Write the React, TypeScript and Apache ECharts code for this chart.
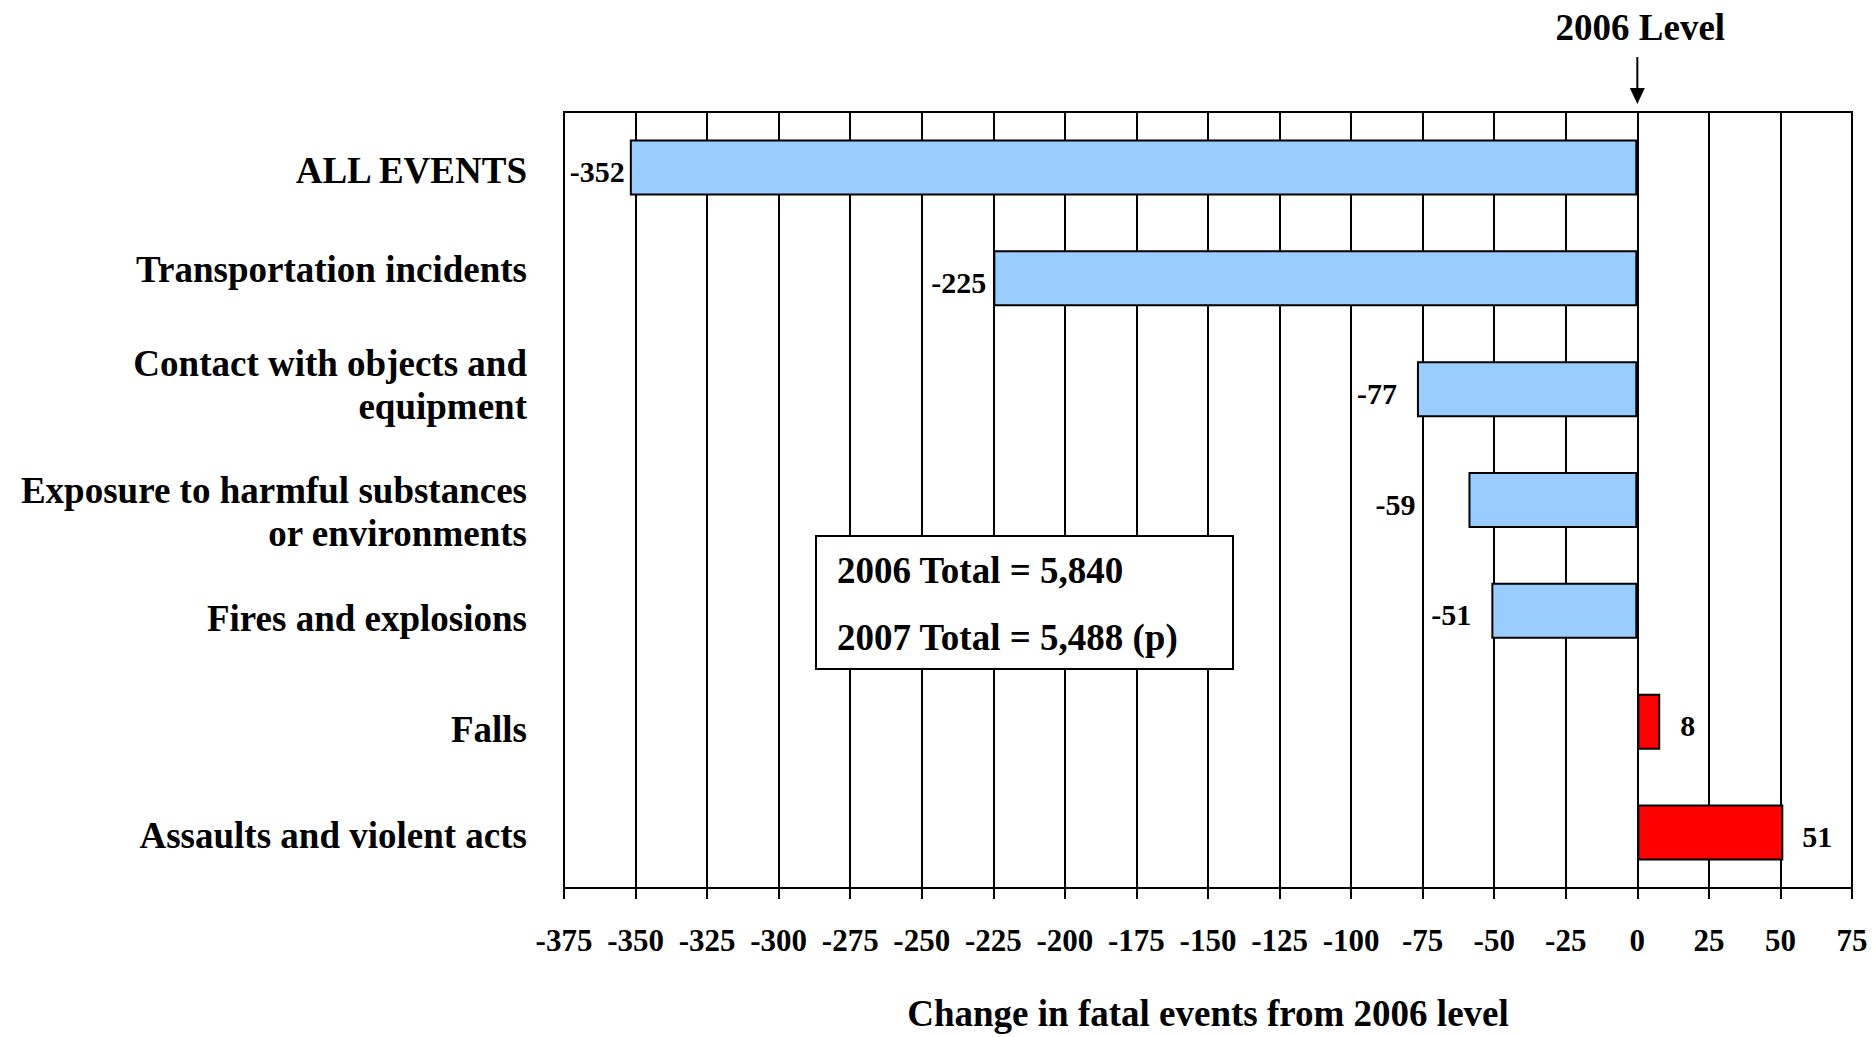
import React, { useEffect, useRef } from "react";
import * as echarts from "echarts";

const categories = [
  "ALL EVENTS",
  "Transportation incidents",
  "Contact with objects and\nequipment",
  "Exposure to harmful substances\nor environments",
  "Fires and explosions",
  "Falls",
  "Assaults and violent acts",
];
const changes = [-352, -225, -77, -59, -51, 8, 51];
const axisMin = -375;
const axisMax = 75;
const axisStep = 25;
const axisTitle = "Change in fatal events from 2006 level";
const levelLabel = "2006 Level";
const totalLines = ["2006 Total = 5,840", "2007 Total = 5,488 (p)"];
// styling only: label offsets from bar ends, and vertical nudges of category labels
const labelGaps = [5, 7, 20, 53, 20, 20, 19];
const categoryNudge = [3, -9, -4, 12, 8, 8, 3];

const FONT = '"Liberation Serif", "Times New Roman", serif';
const GRID_LEFT = 564;

export default function App() {
  const ref = useRef<HTMLDivElement>(null);
  useEffect(() => {
    document.body.style.margin = "0";
    const chart = echarts.init(ref.current!, null, { renderer: "svg" });
    chart.setOption({
      animation: false,
      backgroundColor: "#ffffff",
      grid: {
        left: GRID_LEFT,
        right: 21,
        top: 112,
        bottom: 149,
        show: true,
        borderColor: "#000",
        borderWidth: 2,
        backgroundColor: "transparent",
        containLabel: false,
        outerBoundsMode: "none",
      },
      xAxis: {
        type: "value",
        min: axisMin,
        max: axisMax,
        interval: axisStep,
        axisLine: { show: true, lineStyle: { color: "#000", width: 2 } },
        axisTick: { show: true, length: 11, lineStyle: { color: "#000", width: 2 } },
        axisLabel: {
          show: true,
          showMinLabel: true,
          showMaxLabel: true,
          color: "#000",
          fontFamily: FONT,
          fontWeight: "bold",
          fontSize: 31,
          margin: 37,
        },
        splitLine: { show: true, lineStyle: { color: "#000", width: 2 } },
        name: axisTitle,
        nameLocation: "middle",
        nameGap: 107,
        nameTextStyle: {
          color: "#000",
          fontFamily: FONT,
          fontWeight: "bold",
          fontSize: 37,
        },
      },
      yAxis: {
        type: "category",
        data: categories,
        inverse: true,
        axisLine: { show: false },
        axisTick: { show: false },
        splitLine: { show: false },
        axisLabel: { show: false },
      },
      series: [
        {
          type: "bar",
          barWidth: 56,
          data: changes.map((v, i) => ({
            value: v,
            itemStyle: {
              color: v < 0 ? "#99CCFF" : "#FF0000",
              borderColor: "#000",
              borderWidth: 2,
            },
            label: {
              show: true,
              position: v < 0 ? "left" : "right",
              distance: labelGaps[i],
            },
          })),
          label: {
            show: true,
            color: "#000",
            fontFamily: FONT,
            fontWeight: "bold",
            fontSize: 30,
            offset: [0, 4],
          },
        },
      ],
    });

    const x0 = chart.convertToPixel({ xAxisIndex: 0 }, 0) as number;
    const textStyle = (text: string, x: number, y: number, align: string) => ({
      text,
      x,
      y,
      fill: "#000",
      fontFamily: FONT,
      fontWeight: "bold",
      fontSize: 37,
      lineHeight: 43,
      align,
      textAlign: align,
      verticalAlign: "middle",
      textVerticalAlign: "middle",
    });
    const categoryTexts = categories.map((c, i) => {
      const y = chart.convertToPixel({ yAxisIndex: 0 }, i) as number;
      return {
        type: "text",
        z: 100,
        style: textStyle(c, GRID_LEFT - 37, y + categoryNudge[i], "right"),
      };
    });
    chart.setOption({
      graphic: [
        ...categoryTexts,
        { type: "text", z: 100, style: textStyle(levelLabel, x0 + 3, 27, "center") },
        {
          type: "line",
          z: 100,
          shape: { x1: x0, y1: 57, x2: x0, y2: 92 },
          style: { stroke: "#000", lineWidth: 2 },
        },
        {
          type: "polygon",
          z: 100,
          shape: { points: [[x0 - 7.5, 88], [x0 + 7.5, 88], [x0, 104]] },
          style: { fill: "#000" },
        },
        {
          type: "rect",
          z: 100,
          shape: { x: 816, y: 536, width: 417, height: 133 },
          style: { fill: "#fff", stroke: "#000", lineWidth: 2 },
        },
        { type: "text", z: 101, style: textStyle(totalLines[0], 837, 570, "left") },
        { type: "text", z: 101, style: textStyle(totalLines[1], 837, 637, "left") },
      ],
    });
    return () => chart.dispose();
  }, []);
  return <div ref={ref} style={{ width: 1873, height: 1037 }} />;
}
